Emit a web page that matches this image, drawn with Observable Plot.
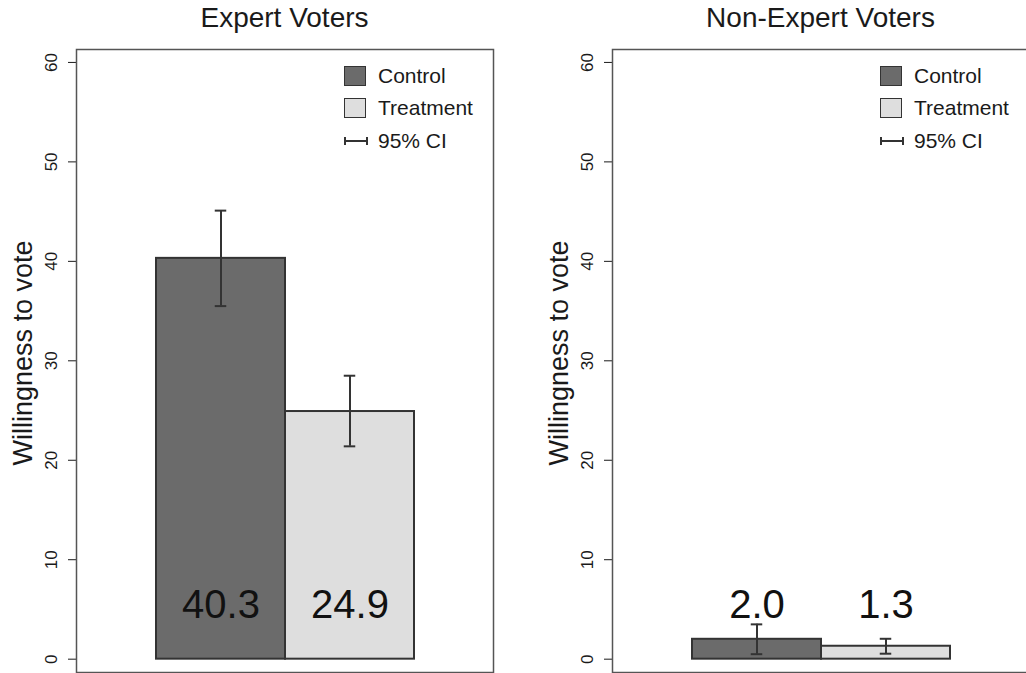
<!DOCTYPE html>
<html>
<head>
<meta charset="utf-8">
<script src="https://cdn.jsdelivr.net/npm/d3@7"></script>
<script src="https://cdn.jsdelivr.net/npm/@observablehq/plot@0.6"></script>
<style>
  html, body { margin: 0; padding: 0; background: #fff; overflow: hidden; }
  #root { position: relative; width: 1026px; height: 673px; overflow: hidden; background: #fff;
          font-family: "Liberation Sans", Arial, Helvetica, sans-serif; color: #1a1a1a; }
  .panel { position: absolute; top: 0; width: 520px; height: 673px; }
  .panel svg { position: absolute; left: 0; top: 0; }
  .title { position: absolute; top: 4px; font-size: 28px; line-height: 28px; white-space: nowrap;
           transform: translateX(-50%); color: #1a1a1a; }
  .legend { position: absolute; top: 66px; font-size: 21px; }
  .row { position: absolute; left: 0; height: 20px; line-height: 20px; white-space: nowrap; }
  .sw { position: absolute; left: 0; top: 0; width: 20px; height: 18px; border: 1.5px solid #333; }
  .lab { position: absolute; left: 34px; top: 0; }
  .ci { position: absolute; left: 0; top: 0; width: 24px; height: 20px; }
</style>
</head>
<body>
<div id="root"></div>
<script>
// ---- data ----
const groups = ["Control", "Treatment"];
const panelTitles = ["Expert Voters", "Non-Expert Voters"];
const expertMeans = [40.3, 24.9];
const expertLow = [35.5, 21.4];
const expertHigh = [45.1, 28.5];
const nonExpertMeans = [2.0, 1.3];
const nonExpertLow = [0.5, 0.55];
const nonExpertHigh = [3.5, 2.05];
const yTicks = [0, 10, 20, 30, 40, 50, 60];
const yLabel = "Willingness to vote";
const legendItems = ["Control", "Treatment", "95% CI"];
const fills = ["#6b6b6b", "#dedede"];

const root = document.getElementById("root");

function panel(title, means, lo, hi, left, marginLeft) {
  const boxW = 417;
  const data = groups.map((g, i) => ({group: g, value: means[i], lo: lo[i], hi: hi[i]}));
  const capInset = 58.75;
  const svg = Plot.plot({
    width: 520,
    height: 673,
    marginLeft,
    marginRight: 520 - marginLeft - boxW,
    marginTop: 49,
    marginBottom: 1,
    style: {fontFamily: "'Liberation Sans', Arial, Helvetica, sans-serif", fontSize: "17px", background: "transparent", color: "#1a1a1a", overflow: "visible"},
    x: {domain: groups, paddingInner: 0, paddingOuter: 0.61, axis: null},
    y: {domain: [-1.34, 61.3], ticks: yTicks},
    color: {domain: groups, range: fills},
    marks: [
      Plot.axisY({ticks: yTicks, tickSize: 8, tickPadding: 12, tickRotate: -90, fontSize: 17, label: null}),
      Plot.barY(data, {x: "group", y: "value", fill: "group", stroke: "#333", strokeWidth: 2}),
      Plot.ruleX(data, {x: "group", y1: "lo", y2: "hi", stroke: "#333", strokeWidth: 2}),
      Plot.tickY(data, {x: "group", y: "lo", insetLeft: capInset, insetRight: capInset, stroke: "#333", strokeWidth: 2}),
      Plot.tickY(data, {x: "group", y: "hi", insetLeft: capInset, insetRight: capInset, stroke: "#333", strokeWidth: 2}),
      Plot.text(data, {x: "group", y: 4.1, text: d => d.value.toFixed(1), fontSize: 40, lineAnchor: "bottom", fill: "#111"}),
      Plot.text([yLabel], {text: d => d, frameAnchor: "left", rotate: -90, dx: -64, dy: -8, fontSize: 27, lineAnchor: "top", textAnchor: "middle", fill: "#1a1a1a"}),
      Plot.frame({stroke: "#555", strokeWidth: 1.5})
    ]
  });

  const div = document.createElement("div");
  div.className = "panel";
  div.style.left = left + "px";
  div.appendChild(svg);

  const t = document.createElement("div");
  t.className = "title";
  t.style.left = (marginLeft + boxW / 2) + "px";
  t.textContent = title;
  div.appendChild(t);

  const lg = document.createElement("div");
  lg.className = "legend";
  lg.style.left = (marginLeft + 268) + "px";
  legendItems.forEach((name, i) => {
    const row = document.createElement("div");
    row.className = "row";
    row.style.top = (i * 32.3) + "px";
    if (i < 2) {
      const sw = document.createElement("div");
      sw.className = "sw";
      sw.style.background = fills[i];
      row.appendChild(sw);
    } else {
      row.innerHTML = '<svg class="ci" width="24" height="20"><line x1="1" x2="23" y1="10" y2="10" stroke="#333" stroke-width="2"/><line x1="1" x2="1" y1="6" y2="14" stroke="#333" stroke-width="2"/><line x1="23" x2="23" y1="6" y2="14" stroke="#333" stroke-width="2"/></svg>';
    }
    const lab = document.createElement("span");
    lab.className = "lab";
    lab.textContent = name;
    row.appendChild(lab);
    lg.appendChild(row);
  });
  div.appendChild(lg);
  root.appendChild(div);
}

panel(panelTitles[0], expertMeans, expertLow, expertHigh, 0, 76);
panel(panelTitles[1], nonExpertMeans, nonExpertLow, nonExpertHigh, 520, 92);
</script>
</body>
</html>
